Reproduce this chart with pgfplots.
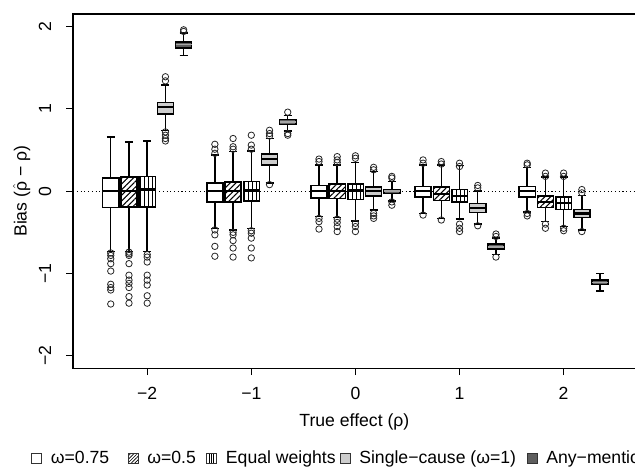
\documentclass[border=0pt]{standalone}
\usepackage{fontspec}
\setmainfont{Liberation Sans}
\usepackage{pgfplots}
\pgfplotsset{compat=1.18}
\usetikzlibrary{patterns.meta}
\usepgfplotslibrary{statistics}

\definecolor{lgray}{HTML}{CDCDCD}
\definecolor{dgray}{HTML}{5E5E5E}
\newcommand{\lbl}{\fontsize{13.2}{15}\selectfont}

\pgfplotsset{
  bx/.style={boxplot/draw direction=y,
    boxplot/box extend=0.155, boxplot/whisker extend=0.077,
    draw=black, line width=1.1pt, mark=o, mark size=2.4pt,
    mark options={solid, fill=none, draw=black!85, line width=0.6pt},
    boxplot/every median/.style={line width=1.7pt}},
  b1/.style={bx, fill=white},
  b2/.style={bx, fill=white, boxplot/every box/.append style={postaction={pattern={Lines[angle=45,distance=3pt,line width=0.8pt]}}}},
  b3/.style={bx, fill=white, boxplot/every box/.append style={postaction={pattern={Lines[angle=90,distance=3pt,line width=0.8pt]}}}},
  b4/.style={bx, fill=lgray},
  b5/.style={bx, fill=dgray, boxplot/every median/.style={line width=1.2pt, draw=black!35}},
}

\begin{document}
\begin{tikzpicture}
\begin{axis}[
  scale only axis,
  width=421.5pt, height=265.5pt,
  xmin=-2.712, xmax=2.692, ymin=-2.152, ymax=2.152,
  axis line style={line width=1pt},
  tick pos=left, tick align=outside,
  major tick length=5pt,
  tick style={line width=0.9pt, black},
  xtick={-2,-1,0,1,2}, xticklabels={−2,−1,0,1,2},
  ytick={-2,-1,0,1,2}, yticklabels={−2,−1,0,1,2},
  tick label style={font=\lbl},
  xticklabel style={anchor=base, yshift=-18.6pt},
  yticklabel style={rotate=90, anchor=center, yshift=16pt},
  xlabel={True effect (ρ)},
  ylabel={Bias ($\hat{\mbox{ρ}}$ − ρ)},
  label style={font=\lbl},
  xlabel style={at={(axis description cs:0.5,0)}, anchor=center, yshift=-39.75pt},
  ylabel style={at={(axis description cs:0,0.5)}, anchor=center, yshift=38.5pt},
  legend columns=-1,
  legend style={draw=none, fill=none, font=\lbl, at={(0,0)}, anchor=west,
    xshift=-34.5pt, yshift=-67.5pt, column sep=0pt,
    /tikz/every odd column/.append style={column sep=6.5pt},
    nodes={inner sep=0pt}},
  legend image code/.code={\draw[#1] (0pt,-3.75pt) rectangle (7.5pt,3.75pt);},
]
\coordinate (sw) at (rel axis cs:0,0);

\addplot[forget plot, dotted, line width=0.8pt] coordinates {(-2.712,0) (2.692,0)};

% rho = -2
\addplot[b1, forget plot, boxplot prepared={draw position=-2.35, lower whisker=-0.73, lower quartile=-0.20, median=0, upper quartile=0.16, upper whisker=0.66}]
  table[row sep=\\, y index=0] {y\\ -0.75\\ -0.78\\ -0.82\\ -0.88\\ -0.97\\ -1.13\\ -1.17\\ -1.20\\ -1.37\\};
\addplot[b2, forget plot, boxplot prepared={draw position=-2.175, lower whisker=-0.73, lower quartile=-0.19, median=0.0, upper quartile=0.17, upper whisker=0.60}]
  table[row sep=\\, y index=0] {y\\ -0.74\\ -0.76\\ -0.78\\ -0.88\\ -1.02\\ -1.08\\ -1.12\\ -1.17\\ -1.28\\ -1.36\\};
\addplot[b3, forget plot, boxplot prepared={draw position=-2.0, lower whisker=-0.73, lower quartile=-0.19, median=0.02, upper quartile=0.18, upper whisker=0.61}]
  table[row sep=\\, y index=0] {y\\ -0.77\\ -0.80\\ -0.86\\ -1.02\\ -1.08\\ -1.14\\ -1.27\\ -1.36\\};
\addplot[b4, forget plot, boxplot prepared={draw position=-1.825, lower whisker=0.74, lower quartile=0.94, median=1.02, upper quartile=1.08, upper whisker=1.29}]
  table[row sep=\\, y index=0] {y\\ 1.39\\ 1.34\\ 0.72\\ 0.68\\ 0.64\\ 0.61\\};
\addplot[b5, forget plot, boxplot prepared={draw position=-1.65, lower whisker=1.65, lower quartile=1.74, median=1.78, upper quartile=1.81, upper whisker=1.92}]
  table[row sep=\\, y index=0] {y\\ 1.94\\ 1.96\\};

% rho = -1
\addplot[b1, forget plot, boxplot prepared={draw position=-1.35, lower whisker=-0.45, lower quartile=-0.13, median=0, upper quartile=0.10, upper whisker=0.44}]
  table[row sep=\\, y index=0] {y\\ 0.57\\ 0.51\\ 0.46\\ -0.47\\ -0.53\\ -0.67\\ -0.79\\};
\addplot[b2, forget plot, boxplot prepared={draw position=-1.175, lower whisker=-0.47, lower quartile=-0.13, median=0, upper quartile=0.11, upper whisker=0.48}]
  table[row sep=\\, y index=0] {y\\ 0.51\\ 0.54\\ 0.64\\ -0.50\\ -0.53\\ -0.60\\ -0.69\\ -0.80\\};
\addplot[b3, forget plot, boxplot prepared={draw position=-1.0, lower whisker=-0.45, lower quartile=-0.12, median=0.01, upper quartile=0.12, upper whisker=0.49}]
  table[row sep=\\, y index=0] {y\\ 0.51\\ 0.56\\ 0.68\\ -0.48\\ -0.51\\ -0.57\\ -0.69\\ -0.81\\};
\addplot[b4, forget plot, boxplot prepared={draw position=-0.825, lower whisker=0.10, lower quartile=0.32, median=0.39, upper quartile=0.45, upper whisker=0.64}]
  table[row sep=\\, y index=0] {y\\ 0.74\\ 0.70\\ 0.67\\ 0.08\\};
\addplot[b5, forget plot, boxplot prepared={draw position=-0.65, lower whisker=0.73, lower quartile=0.81, median=0.84, upper quartile=0.87, upper whisker=0.92}]
  table[row sep=\\, y index=0] {y\\ 0.96\\ 0.70\\ 0.68\\};

% rho = 0
\addplot[b1, forget plot, boxplot prepared={draw position=-0.35, lower whisker=-0.31, lower quartile=-0.08, median=0, upper quartile=0.07, upper whisker=0.32}]
  table[row sep=\\, y index=0] {y\\ 0.39\\ 0.36\\ -0.33\\ -0.37\\ -0.46\\};
\addplot[b2, forget plot, boxplot prepared={draw position=-0.175, lower whisker=-0.32, lower quartile=-0.09, median=0, upper quartile=0.09, upper whisker=0.32}]
  table[row sep=\\, y index=0] {y\\ 0.42\\ 0.38\\ 0.35\\ -0.34\\ -0.38\\ -0.43\\ -0.49\\};
\addplot[b3, forget plot, boxplot prepared={draw position=0.0, lower whisker=-0.36, lower quartile=-0.10, median=0.01, upper quartile=0.09, upper whisker=0.35}]
  table[row sep=\\, y index=0] {y\\ 0.43\\ 0.40\\ -0.39\\ -0.43\\ -0.49\\};
\addplot[b4, forget plot, boxplot prepared={draw position=0.175, lower whisker=-0.23, lower quartile=-0.06, median=0, upper quartile=0.05, upper whisker=0.24}]
  table[row sep=\\, y index=0] {y\\ 0.29\\ 0.26\\ -0.27\\ -0.30\\ -0.33\\};
\addplot[b5, forget plot, boxplot prepared={draw position=0.35, lower whisker=-0.12, lower quartile=-0.03, median=0, upper quartile=0.02, upper whisker=0.12}]
  table[row sep=\\, y index=0] {y\\ 0.18\\ 0.16\\ -0.13\\ -0.17\\};

% rho = 1
\addplot[b1, forget plot, boxplot prepared={draw position=0.65, lower whisker=-0.27, lower quartile=-0.07, median=0, upper quartile=0.06, upper whisker=0.32}]
  table[row sep=\\, y index=0] {y\\ 0.38\\ 0.34\\ -0.29\\};
\addplot[b2, forget plot, boxplot prepared={draw position=0.825, lower whisker=-0.33, lower quartile=-0.11, median=-0.03, upper quartile=0.05, upper whisker=0.32}]
  table[row sep=\\, y index=0] {y\\ 0.36\\ 0.33\\ -0.35\\};
\addplot[b3, forget plot, boxplot prepared={draw position=1.0, lower whisker=-0.34, lower quartile=-0.13, median=-0.06, upper quartile=0.02, upper whisker=0.31}]
  table[row sep=\\, y index=0] {y\\ 0.34\\ 0.30\\ -0.40\\ -0.45\\ -0.49\\};
\addplot[b4, forget plot, boxplot prepared={draw position=1.175, lower whisker=-0.40, lower quartile=-0.26, median=-0.20, upper quartile=-0.15, upper whisker=0.0}]
  table[row sep=\\, y index=0] {y\\ 0.07\\ 0.04\\ -0.42\\};
\addplot[b5, forget plot, boxplot prepared={draw position=1.35, lower whisker=-0.77, lower quartile=-0.70, median=-0.68, upper quartile=-0.64, upper whisker=-0.57}]
  table[row sep=\\, y index=0] {y\\ -0.52\\ -0.55\\ -0.80\\};

% rho = 2
\addplot[b1, forget plot, boxplot prepared={draw position=1.65, lower whisker=-0.25, lower quartile=-0.07, median=0, upper quartile=0.06, upper whisker=0.29}]
  table[row sep=\\, y index=0] {y\\ 0.34\\ 0.32\\ -0.27\\ -0.30\\};
\addplot[b2, forget plot, boxplot prepared={draw position=1.825, lower whisker=-0.37, lower quartile=-0.20, median=-0.13, upper quartile=-0.06, upper whisker=0.17}]
  table[row sep=\\, y index=0] {y\\ 0.22\\ 0.18\\ -0.40\\ -0.45\\};
\addplot[b3, forget plot, boxplot prepared={draw position=2.0, lower whisker=-0.43, lower quartile=-0.22, median=-0.14, upper quartile=-0.07, upper whisker=0.17}]
  table[row sep=\\, y index=0] {y\\ 0.22\\ 0.18\\ -0.45\\ -0.48\\};
\addplot[b4, forget plot, boxplot prepared={draw position=2.175, lower whisker=-0.47, lower quartile=-0.32, median=-0.27, upper quartile=-0.22, upper whisker=-0.05}]
  table[row sep=\\, y index=0] {y\\ 0.02\\ -0.02\\ -0.49\\};
\addplot[b5, forget plot, boxplot prepared={draw position=2.35, lower whisker=-1.21, lower quartile=-1.13, median=-1.11, upper quartile=-1.08, upper whisker=-1.00}]
  table[row sep=\\, y index=0] {y\\};

\addlegendimage{draw=black!80, line width=0.7pt, fill=white}
\addlegendentry{ω=0.75\rule{14pt}{0pt}}
\addlegendimage{draw=black!80, line width=0.7pt, pattern={Lines[angle=45,distance=1.8pt,line width=0.5pt]}}
\addlegendentry{ω=0.5\rule{8pt}{0pt}}
\addlegendimage{draw=black!80, line width=0.7pt, pattern={Lines[angle=90,distance=1.8pt,line width=0.6pt]}}
\addlegendentry{Equal weights\rule{3pt}{0pt}}
\addlegendimage{draw=black!80, line width=0.7pt, fill=lgray}
\addlegendentry{Single−cause (ω=1)\rule{8pt}{0pt}}
\addlegendimage{draw=black!80, line width=0.7pt, fill=dgray}
\addlegendentry{Any−mention}
\end{axis}
\pgfresetboundingbox
\useasboundingbox ([xshift=-54.75pt,yshift=-80.25pt]sw) rectangle ([xshift=421pt,yshift=276pt]sw);
\end{tikzpicture}
\end{document}
